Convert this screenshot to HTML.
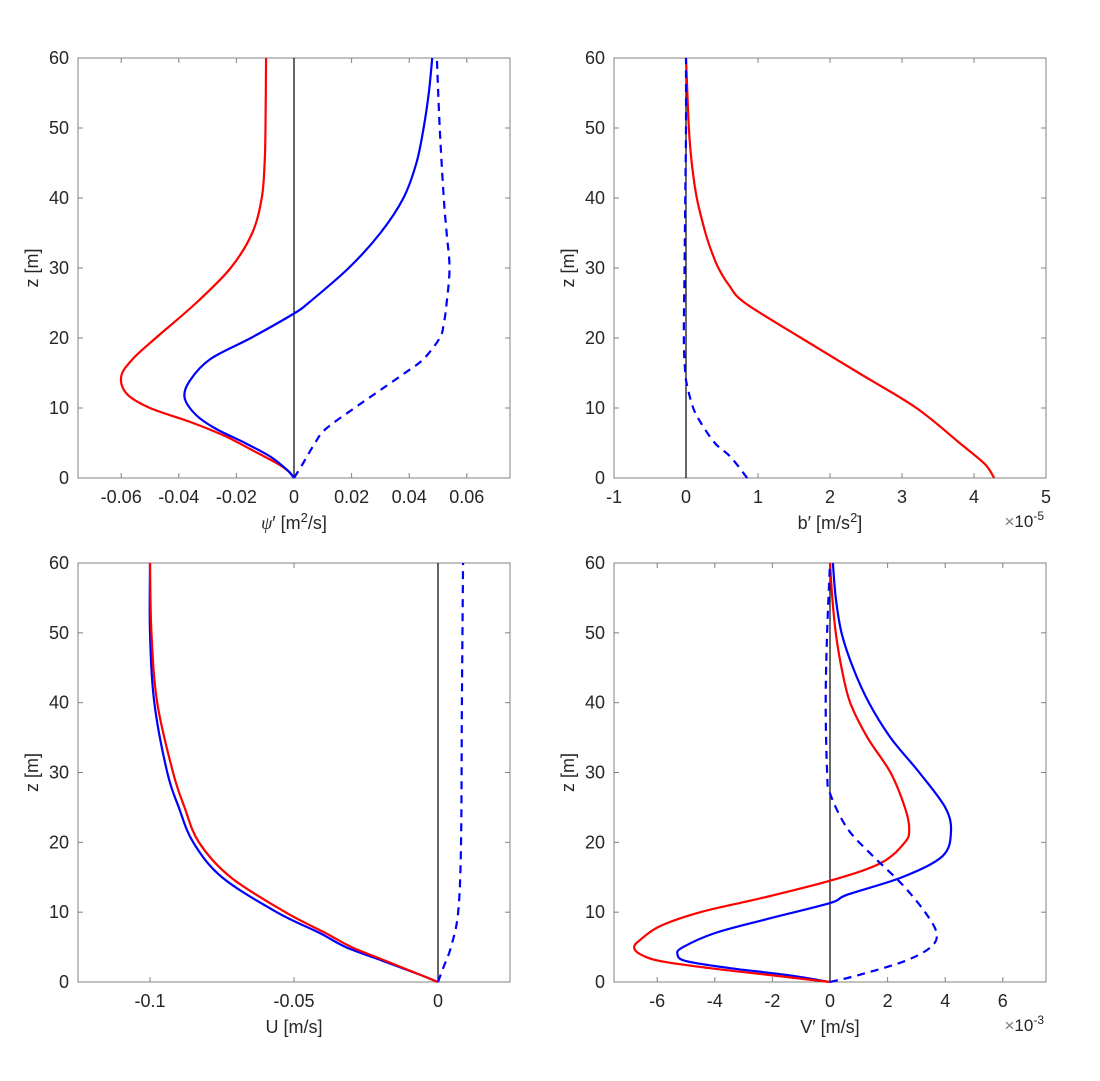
<!DOCTYPE html>
<html><head><meta charset="utf-8"><style>
body{margin:0;background:#fff}
svg text{font-family:"Liberation Sans","DejaVu Sans",sans-serif;fill:#262626}
</style></head><body>
<svg id="fig" width="1100" height="1076" xmlns="http://www.w3.org/2000/svg"></svg>
<script>
// ---- data (z in m) ----
const zTicks=[0,10,20,30,40,50,60];
// Panel 1: psi'
const psiRedZ=[0,1,2,4,6,8,10,12,14.5,17,20,25,30,35,40,45,50,60];
const psiRed=[0,-0.002,-0.0055,-0.0146,-0.024,-0.036,-0.050,-0.058,-0.060,-0.056,-0.048,-0.034,-0.022,-0.0145,-0.0112,-0.0102,-0.0099,-0.0097];
const psiBlueZ=[0,1,3,5,7,9,11.5,14,17,20,23.5,25,30,35,40,45,50,55,60];
const psiBlue=[0,-0.002,-0.008,-0.017,-0.027,-0.034,-0.038,-0.036,-0.029,-0.015,0,0.005,0.019,0.030,0.038,0.0425,0.045,0.0468,0.048];
const psiDashZ=[0,2,5,7,10,12,15,17,20,22,25,30,35,40,50,60];
const psiDash=[0,0.003,0.0073,0.011,0.021,0.028,0.0385,0.045,0.0506,0.052,0.053,0.054,0.053,0.052,0.0506,0.0496];
const psiTicks=[-0.06,-0.04,-0.02,0,0.02,0.04,0.06];
const psiTickLabels=["-0.06","-0.04","-0.02","0","0.02","0.04","0.06"];
// Panel 2: b' (x1e-5)
const bRedZ=[0,2,5,10,15,20,25,27.5,30,32.5,35,40,45,50,60];
const bRed=[4.28,4.15,3.8,3.2,2.4,1.6,0.82,0.6,0.45,0.35,0.27,0.15,0.08,0.04,0];
const bDashZ=[0,3,5,8,10,13,15,20,30,40,50,60];
const bDash=[0.85,0.62,0.4,0.2,0.1,0.02,-0.01,-0.03,-0.02,-0.01,0,0];
const bTicks=[-1,0,1,2,3,4,5];
const bTickLabels=["-1","0","1","2","3","4","5"];
// Panel 3: U
const uRedZ=[0,1,3,5,7,10,15,20,25,30,40,50,60];
const uRed=[0,-0.006,-0.018,-0.030,-0.039,-0.053,-0.072,-0.083,-0.088,-0.092,-0.0975,-0.0995,-0.100];
const uBlue=[0,-0.006,-0.019,-0.032,-0.041,-0.056,-0.075,-0.085,-0.090,-0.094,-0.0985,-0.1,-0.100];
const uDashZ=[0,2,5,10,20,40,60];
const uDash=[0,0.0018,0.0045,0.007,0.008,0.0083,0.0087];
const uTicks=[-0.1,-0.05,0];
const uTickLabels=["-0.1","-0.05","0"];
// Panel 4: V' (x1e-3)
const vRedZ=[0,1,2,3,4,5,6,8,10,12,14.5,17,20,22,25,30,35,40,45,50,55,60];
const vRed=[0,-2.1,-4.2,-5.9,-6.6,-6.8,-6.6,-5.9,-4.5,-2.4,0,1.75,2.6,2.75,2.6,2.1,1.3,0.7,0.4,0.2,0.08,0];
const vBlueZ=[0,1,2,3,4,5,7,9,11.3,12.5,15,18,21.5,25,30,35,40,45,50,55,60];
const vBlue=[0,-1.5,-3.5,-5.0,-5.3,-5.1,-4.0,-2.2,0,0.6,2.5,3.9,4.2,4.0,3.1,2.1,1.35,0.8,0.4,0.2,0.1];
const vDashZ=[0,1,3,5,7,10,14,18,22,27,30,40,50,60];
const vDash=[0,1.0,2.6,3.5,3.7,3.3,2.5,1.5,0.6,0,-0.1,-0.15,-0.1,0];
const vTicks=[-6,-4,-2,0,2,4,6];
const vTickLabels=["-6","-4","-2","0","2","4","6"];

const NS="http://www.w3.org/2000/svg";
const svg=document.getElementById('fig');
function mk(tag,attrs,parent){const e=document.createElementNS(NS,tag);for(const k in attrs)e.setAttribute(k,attrs[k]);(parent||svg).appendChild(e);return e;}
function smooth(pts){let d=`M${pts[0][0]},${pts[0][1]}`;for(let i=0;i<pts.length-1;i++){const p0=pts[Math.max(0,i-1)],p1=pts[i],p2=pts[i+1],p3=pts[Math.min(pts.length-1,i+2)];const c1=[p1[0]+(p2[0]-p0[0])/6,p1[1]+(p2[1]-p0[1])/6],c2=[p2[0]-(p3[0]-p1[0])/6,p2[1]-(p3[1]-p1[1])/6];d+=`C${c1[0]},${c1[1]} ${c2[0]},${c2[1]} ${p2[0]},${p2[1]}`;}return d;}

function panel(P){
  const g=mk('g',{});
  
  
  const xs=v=>P.x0+(v-P.xmin)/(P.xmax-P.xmin)*(P.x1-P.x0);
  const ys=z=>P.y1-z/60*(P.y1-P.y0);
  const box=mk('rect',{x:P.x0,y:P.y0,width:P.x1-P.x0,height:P.y1-P.y0,fill:'none',stroke:'#808080','stroke-width':1},g);
  
  zTicks.forEach(z=>{const y=ys(z);
    mk('line',{x1:P.x0,x2:P.x0+5,y1:y,y2:y,stroke:'#808080'},g);mk('line',{x1:P.x1,x2:P.x1-5,y1:y,y2:y,stroke:'#808080'},g);
    const t=mk('text',{x:P.x0-9,y:y+6,'text-anchor':'end','font-size':18},g);t.textContent=z;
    });
  P.ticks.forEach((v,i)=>{const x=xs(v);
    mk('line',{x1:x,x2:x,y1:P.y1,y2:P.y1-5,stroke:'#808080'},g);mk('line',{x1:x,x2:x,y1:P.y0,y2:P.y0+5,stroke:'#808080'},g);
    const t=mk('text',{x:x,y:P.y1+25,'text-anchor':'middle','font-size':18},g);t.textContent=P.labels[i];
    });
  const zl=mk('line',{x1:xs(0),x2:xs(0),y1:P.y0,y2:P.y1,stroke:'#000','stroke-width':1.2},g);
  
  P.series.forEach(s=>{const pts=s.z.map((z,i)=>[xs(s.v[i]),ys(z)]);
    const p=mk('path',{d:smooth(pts),fill:'none',stroke:s.c,'stroke-width':2.2,'stroke-dasharray':s.dash?'8,6':'none'},g);
    });
  const yl=mk('text',{x:0,y:0,transform:`translate(${P.x0-40},${(P.y0+P.y1)/2}) rotate(-90)`,'text-anchor':'middle','font-size':18},g);yl.textContent='z [m]';
  
  const xl=mk('text',{x:(P.x0+P.x1)/2,y:P.y1+51,'text-anchor':'middle','font-size':18},g);xl.innerHTML=P.xlabel;
  
  if(P.mult){const m=mk('text',{x:P.x1-2,y:P.y1+49,'text-anchor':'end','font-size':17},g);m.innerHTML=P.mult;
    }
}
panel({name:'psi-panel',x0:78,x1:510,y0:58,y1:478,xmin:-0.075,xmax:0.075,ticks:psiTicks,labels:psiTickLabels,
  xlabel:'<tspan font-family="Liberation Serif" font-style="italic">ψ</tspan>′ [m<tspan dy="-7" font-size="13">2</tspan><tspan dy="7">/s]</tspan>',
  series:[{z:psiRedZ,v:psiRed,c:'#ff0000',n:'psi-red-line'},{z:psiBlueZ,v:psiBlue,c:'#0000ff',n:'psi-blue-line'},{z:psiDashZ,v:psiDash,c:'#0000ff',dash:1,n:'psi-blue-dashed'}]});
panel({name:'b-panel',x0:614,x1:1046,y0:58,y1:478,xmin:-1,xmax:5,ticks:bTicks,labels:bTickLabels,
  xlabel:'b′ [m/s<tspan dy="-7" font-size="13">2</tspan><tspan dy="7">]</tspan>',mult:'<tspan fill="#777">×</tspan>10<tspan dy="-7" font-size="12">-5</tspan>',
  series:[{z:bRedZ,v:bRed,c:'#ff0000',n:'b-red-line'},{z:bDashZ,v:bDash,c:'#0000ff',dash:1,n:'b-blue-dashed'}]});
panel({name:'u-panel',x0:78,x1:510,y0:563,y1:982,xmin:-0.125,xmax:0.025,ticks:uTicks,labels:uTickLabels,
  xlabel:'U [m/s]',
  series:[{z:uRedZ,v:uBlue,c:'#0000ff',n:'u-blue-line'},{z:uRedZ,v:uRed,c:'#ff0000',n:'u-red-line'},{z:uDashZ,v:uDash,c:'#0000ff',dash:1,n:'u-blue-dashed'}]});
panel({name:'v-panel',x0:614,x1:1046,y0:563,y1:982,xmin:-7.5,xmax:7.5,ticks:vTicks,labels:vTickLabels,
  xlabel:'V′ [m/s]',mult:'<tspan fill="#777">×</tspan>10<tspan dy="-7" font-size="12">-3</tspan>',
  series:[{z:vBlueZ,v:vBlue,c:'#0000ff',n:'v-blue-line'},{z:vRedZ,v:vRed,c:'#ff0000',n:'v-red-line'},{z:vDashZ,v:vDash,c:'#0000ff',dash:1,n:'v-blue-dashed'}]});
</script>
</body></html>
